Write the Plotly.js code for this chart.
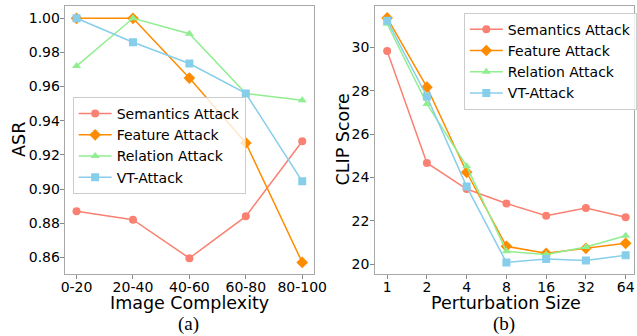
<!DOCTYPE html>
<html>
<head>
<meta charset="utf-8">
<script src="https://cdn.plot.ly/plotly-3.0.1.min.js"></script>
<style>html,body{margin:0;padding:0;background:#fff;}#chart{width:637px;height:336px;}</style>
</head>
<body>
<div id="chart"></div>
<script>
// ---- data ----
const complexityLabels = ["0-20", "20-40", "40-60", "60-80", "80-100"];
const asrSemantics = [0.887, 0.882, 0.8595, 0.884, 0.928];
const asrFeature   = [1.000, 1.000, 0.965, 0.927, 0.857];
const asrRelation  = [0.972, 1.000, 0.991, 0.956, 0.952];
const asrVT        = [1.000, 0.986, 0.9735, 0.956, 0.9045];

const perturbLabels = ["1", "2", "4", "8", "16", "32", "64"];
const clipSemantics = [29.82, 24.67, 23.47, 22.80, 22.24, 22.60, 22.17];
const clipFeature   = [31.35, 28.16, 24.24, 20.83, 20.51, 20.74, 20.97];
const clipRelation  = [31.08, 27.39, 24.52, 20.60, 20.45, 20.80, 21.32];
const clipVT        = [31.22, 27.73, 23.58, 20.09, 20.25, 20.18, 20.42];

const seriesNames = ["Semantics Attack", "Feature Attack", "Relation Attack", "VT-Attack"];
const yTicksA = [0.86, 0.88, 0.90, 0.92, 0.94, 0.96, 0.98, 1.00];
const yTicksB = [20, 22, 24, 26, 28, 30];
const axisTitles = {xa: "Image Complexity", ya: "ASR", xb: "Perturbation Size", yb: "CLIP Score"};
const captions = ["(a)", "(b)"];

// ---- styles ----
const colors = ["#FA8072", "#FF8C00", "#90EE90", "#87CEEB"];
const symbols = ["circle", "diamond", "triangle-up", "square"];
const msizes = [8, 9, 8, 8];
const FONT = "DejaVu Sans, sans-serif";

const asrSets = [asrSemantics, asrFeature, asrRelation, asrVT];
const clipSets = [clipSemantics, clipFeature, clipRelation, clipVT];

const traces = [];
asrSets.forEach((ys, i) => {
  traces.push({
    x: complexityLabels, y: ys, type: "scatter", mode: "lines+markers",
    name: seriesNames[i], xaxis: "x", yaxis: "y", legend: "legend",
    line: {color: colors[i], width: 1.5},
    marker: {color: colors[i], symbol: symbols[i], size: msizes[i]}
  });
});
clipSets.forEach((ys, i) => {
  traces.push({
    x: perturbLabels, y: ys, type: "scatter", mode: "lines+markers",
    name: seriesNames[i], xaxis: "x2", yaxis: "y2", legend: "legend2",
    line: {color: colors[i], width: 1.5},
    marker: {color: colors[i], symbol: symbols[i], size: msizes[i]}
  });
});

const W = 637, H = 336;
const axisCommon = {
  showline: true, mirror: true, linecolor: "#a8a8a8", linewidth: 1,
  showgrid: false, zeroline: false,
  ticks: "outside", ticklen: 4, tickwidth: 1, tickcolor: "#888",
  tickfont: {family: FONT, size: 14, color: "#000"}
};
const yDom = [1 - 273.7 / H, 1 - 5.5 / H];

const legendCommon = {
  bgcolor: "rgba(255,255,255,0.8)", bordercolor: "#cccccc", borderwidth: 1,
  font: {family: FONT, size: 14, color: "#000"},
  xanchor: "left", yanchor: "top", tracegroupgap: 0, itemwidth: 33
};

const titleFont = {family: FONT, size: 17.5, color: "#000"};
const capFont = {family: "Liberation Serif, serif", size: 19, color: "#000"};
function ann(text, xpx, ypx, font, angle) {
  return {text: text, xref: "paper", yref: "paper", x: xpx / W, y: 1 - ypx / H,
          xanchor: "center", yanchor: "middle", showarrow: false,
          textangle: angle || 0, font: font};
}

const layout = {
  width: W, height: H,
  margin: {l: 0, r: 0, t: 0, b: 0},
  paper_bgcolor: "#fff", plot_bgcolor: "#fff",
  font: {family: FONT, color: "#000"},
  xaxis: Object.assign({}, axisCommon, {
    domain: [65 / W, 315 / W], type: "category", ticklabelstandoff: -4,
    categoryarray: complexityLabels, range: [-0.21, 4.2]
  }),
  yaxis: Object.assign({}, axisCommon, {
    domain: yDom, range: [0.8504, 1.0075], ticklabelstandoff: -3,
    tickvals: yTicksA, ticktext: yTicksA.map(v => v.toFixed(2))
  }),
  xaxis2: Object.assign({}, axisCommon, {
    domain: [377 / W, 1], type: "category", ticklabelstandoff: -4,
    categoryarray: perturbLabels, range: [-0.3, 6.21], anchor: "y2"
  }),
  yaxis2: Object.assign({}, axisCommon, {
    domain: yDom, range: [19.57, 31.92], anchor: "x2", ticklabelstandoff: -2,
    tickvals: yTicksB, ticktext: yTicksB.map(String)
  }),
  legend: Object.assign({}, legendCommon, {x: 73 / W, y: 1 - 97 / H}),
  legend2: Object.assign({}, legendCommon, {x: 466 / W, y: 1 - 12.7 / H}),
  showlegend: true,
  annotations: [
    ann(axisTitles.xa, 190, 303, titleFont),
    ann(axisTitles.ya, 19, 139, titleFont, -90),
    ann(axisTitles.xb, 508.5, 303, titleFont),
    ann(axisTitles.yb, 345, 139, titleFont, -90),
    ann(captions[0], 189, 324, capFont),
    ann(captions[1], 506, 324, capFont)
  ]
};

Plotly.newPlot("chart", traces, layout, {displayModeBar: false, staticPlot: true});
</script>
</body>
</html>
